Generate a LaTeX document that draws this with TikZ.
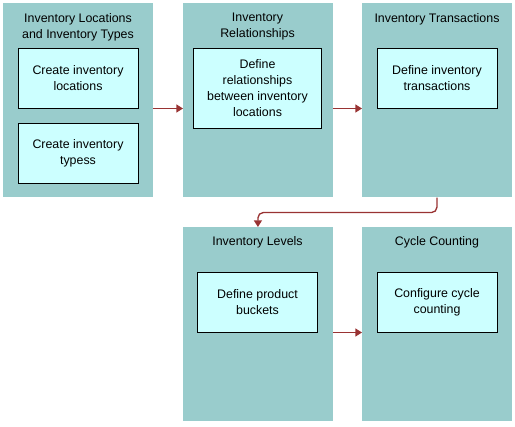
\documentclass[tikz,border=0pt]{standalone}
\usepackage{fontspec}
\setmainfont{Liberation Sans}
\usepackage{tikz}
\usetikzlibrary{arrows.meta}

\definecolor{panelteal}{RGB}{153,204,204}
\definecolor{taskcyan}{RGB}{204,255,255}
\definecolor{flowred}{RGB}{153,51,51}

\tikzset{
  panel/.style={fill=panelteal, inner sep=0pt, minimum width=112pt, minimum height=145.5pt, anchor=north west},
  paneltitle/.style={anchor=north, inner sep=0pt, align=center, font=\fontsize{9.3}{12}\selectfont},
  taskbox/.style={draw=black, line width=0.75pt, fill=taskcyan, align=center, minimum width=90pt, minimum height=45pt, font=\fontsize{9.3}{12}\selectfont},
  flow/.style={draw=flowred, line width=1pt, -{Triangle[length=5pt,width=6pt]}}
}

\begin{document}
\begin{tikzpicture}[x=0.75pt,y=0.75pt,yscale=-1,xscale=1]
    \useasboundingbox (0,0) rectangle (515,426);

    %Shape: Panels
    \node[panel] (locpanel) at (3,3) {};
    \node[panel] (relpanel) at (183,3) {};
    \node[panel] (transpanel) at (362,3) {};
    \node[panel] (levpanel) at (183,227) {};
    \node[panel] (cyclepanel) at (362,227) {};

    % Text Node
    \node[paneltitle] (loctitle) at (78,13) {Inventory Locations\\and Inventory Types};
    % Text Node
    \node[paneltitle] (reltitle) at (257.5,13) {Inventory\\Relationships};
    % Text Node
    \node[paneltitle] (transtitle) at (437,13) {Inventory Transactions};
    % Text Node
    \node[paneltitle] (levtitle) at (257.5,236) {Inventory Levels};
    % Text Node
    \node[paneltitle] (cycletitle) at (437,236) {Cycle Counting};

    %Shape: Task boxes
    \node[taskbox] (createloc) at (78,78) {Create inventory\\locations};
    \node[taskbox] (createtype) at (78,153) {Create inventory\\typess};
    \node[taskbox, minimum width=96pt, minimum height=60pt] (defrel) at (257.5,88) {Define\\relationships\\between inventory\\locations};
    \node[taskbox] (deftrans) at (437,78) {Define inventory\\transactions};
    \node[taskbox] (defbucket) at (257.5,302) {Define product\\buckets};
    \node[taskbox] (confcycle) at (437,302) {Configure cycle\\counting};

    %Connectors
    \draw[flow] (locpanel.east |- createloc.south) -- (relpanel.west |- createloc.south);
    \draw[flow] (relpanel.east |- deftrans.south) -- (transpanel.west |- deftrans.south);
    \draw[flow, rounded corners=4] (transpanel.south) -- ++(0,15) -| (levpanel.north);
    \draw[flow] (levpanel.east |- defbucket.south) -- (cyclepanel.west |- defbucket.south);

\end{tikzpicture}
\end{document}
